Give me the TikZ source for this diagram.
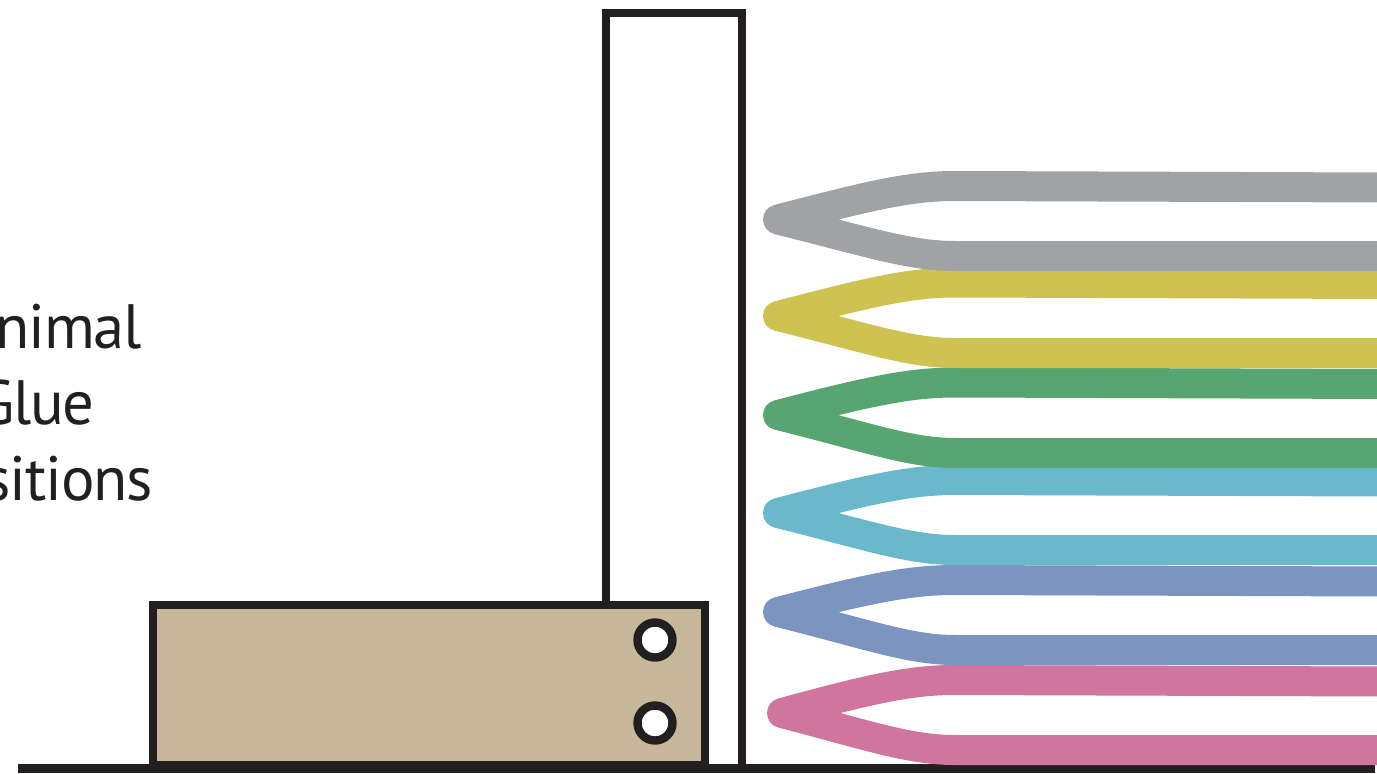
\documentclass[tikz,border=0pt]{standalone}
\usepackage{fontspec}
\setmainfont[LetterSpace=-2]{PT Sans}
\definecolor{ink}{HTML}{231F20}
\definecolor{tan}{HTML}{C7B89C}
\definecolor{cgray}{HTML}{A1A2A3}
\definecolor{cyellow}{HTML}{CEC251}
\definecolor{cgreen}{HTML}{57A570}
\definecolor{ccyan}{HTML}{69B8CB}
\definecolor{cblue}{HTML}{7B94C0}
\definecolor{cpink}{HTML}{D074A0}
\tikzset{
  wall/.style={draw=ink,line width=6.3pt,miter limit=10},
  hole/.style={draw=ink,fill=white,line width=6.3pt},
  label/.style={font=\fontsize{47}{47}\selectfont,text=ink,inner sep=0pt,anchor=base east},
  tine/.style={line width=22.5pt,line join=round,line cap=butt},
}
\newcommand{\tinepath}[5]{% colour, tip x, tip y, top y, bottom y
  \draw[tine,#1] (1385,#4+0.5) -- (955,#4-1) .. controls (910,#4-1) and (870,#3-24) .. (#2,#3)
    .. controls (870,#3+23) and (910,#5) .. (955,#5) -- (1385,#5);
}
\begin{document}
\begin{tikzpicture}[x=0.75pt,y=-0.75pt]
\useasboundingbox (0,0) rectangle (1377,774);
\clip (0,0) rectangle (1377,774);
\node[label] (t1) at (142,348) {nimal};
\node[label] (t2) at (95,424) {Glue};
\node[label] (t3) at (153,500) {sitions};
\draw[wall,fill=white] (606,768) -- (606,13) -- (742,13) -- (742,768);
\draw[wall,fill=tan] (153,605) rectangle (705,765);
\node[hole,circle,minimum size=26.25pt,inner sep=0pt,outer sep=0pt] (h1) at (655,640) {};
\node[hole,circle,minimum size=26.25pt,inner sep=0pt,outer sep=0pt] (h2) at (655,723) {};
\draw[draw=ink,line width=6.8pt] (18,768.5) -- (1375,768.5);
\tinepath{cpink}{782}{713}{681}{750}
\tinepath{cblue}{778}{612}{581}{650}
\tinepath{ccyan}{778}{513}{481}{550}
\tinepath{cgreen}{778}{415}{383.5}{453}
\tinepath{cyellow}{778}{316}{283.5}{353}
\tinepath{cgray}{778}{219.5}{187}{256}
\end{tikzpicture}
\end{document}
